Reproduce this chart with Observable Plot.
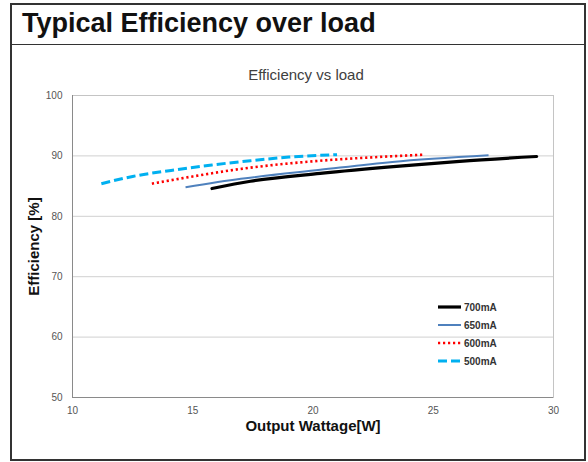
<!DOCTYPE html>
<html>
<head>
<meta charset="utf-8">
<script src="https://cdn.jsdelivr.net/npm/d3@7"></script>
<script src="https://cdn.jsdelivr.net/npm/@observablehq/plot@0.6"></script>
<style>
  html, body { margin: 0; padding: 0; background: #fff; }
  body { width: 588px; height: 462px; position: relative; overflow: hidden; font-family: "Liberation Sans", Arial, sans-serif; }
  #box { position: absolute; left: 10px; top: 3px; width: 572px; height: 454px; border: 2px solid #333; }
  #hdr { position: absolute; left: 10px; top: 44px; width: 576px; height: 0; border-top: 1.5px solid #333; }
  #title { position: absolute; left: 22px; top: 8px; font-size: 27px; font-weight: bold; color: #111; white-space: nowrap; }
  #sub { position: absolute; left: 0; width: 612px; text-align: center; top: 66px; font-size: 15px; color: #404040; }
  #chart { position: absolute; left: 0; top: 0; }
  #legend { position: absolute; left: 438px; top: 298px; font-size: 10px; font-weight: bold; color: #333; }
  #legend div { height: 18px; display: flex; align-items: center; }
  #legend svg { margin-right: 2px; }
</style>
</head>
<body>
<div id="box"></div>
<div id="hdr"></div>
<div id="title">Typical Efficiency over load</div>
<div id="sub">Efficiency vs load</div>
<div id="chart"></div>
<div id="legend"></div>
<script>
const seriesNames = ["700mA", "650mA", "600mA", "500mA"];
const colors = ["#000000", "#4f81bd", "#ff0000", "#00b0f0"];
const widths = [3.2, 2, 2.6, 3];
const dashes = [null, null, "2.2,2.8", "9,4"];

const watts700 = [15.8, 17.4, 20.3, 23.6, 26.1, 29.3];
const eff700   = [84.6, 85.8, 87.1, 88.3, 89.1, 89.9];
const watts650 = [14.7, 17.0, 20.3, 23.3, 27.3];
const eff650   = [84.8, 86.2, 87.7, 89.0, 90.1];
const watts600 = [13.3, 15.0, 17.1, 20.3, 23.6, 24.6];
const eff600   = [85.4, 86.6, 87.9, 89.2, 90.0, 90.2];
const watts500 = [11.2, 12.5, 14.1, 15.8, 17.4, 19.0, 21.0];
const eff500   = [85.4, 86.6, 87.6, 88.5, 89.2, 89.8, 90.2];

const xTicks = [10, 15, 20, 25, 30];
const yTicks = [50, 60, 70, 80, 90, 100];

const allW = [watts700, watts650, watts600, watts500];
const allE = [eff700, eff650, eff600, eff500];
const rows = [];
seriesNames.forEach((s, i) => allW[i].forEach((w, j) => rows.push({series: s, w, e: allE[i][j]})));

const lineMarks = [3, 2, 1, 0].map(i =>
  Plot.line(rows.filter(d => d.series === seriesNames[i]), {
    x: "w", y: "e", stroke: colors[i], strokeWidth: widths[i],
    strokeDasharray: dashes[i] || undefined, curve: "monotone-x",
    strokeLinecap: i === 0 ? "round" : "butt"
  })
);

const chart = Plot.plot({
  width: 588, height: 462,
  marginLeft: 72, marginRight: 35, marginTop: 95, marginBottom: 65,
  style: {background: "transparent", fontFamily: "Liberation Sans, Arial, sans-serif"},
  x: {domain: [10, 30], ticks: xTicks},
  y: {domain: [50, 100], ticks: yTicks},
  marks: [
    Plot.gridY(yTicks.filter(t => t > 50), {stroke: "#d0d0d0", strokeOpacity: 1}),
    Plot.frame({stroke: "#c4c4c4"}),
    Plot.ruleY([50], {stroke: "#8a8a8a"}),
    Plot.ruleX([10], {stroke: "#8a8a8a"}),
    Plot.axisX({ticks: xTicks, tickSize: 0, tickPadding: 9, fontSize: 10, fill: "#555", label: null}),
    Plot.axisY({ticks: yTicks, tickSize: 0, tickPadding: 10, fontSize: 10, fill: "#555", label: null}),
    ...lineMarks,
    Plot.text(["Output Wattage[W]"], {frameAnchor: "bottom", dy: 33, fontSize: 15, fontWeight: "bold", fill: "#111"}),
    Plot.text(["Efficiency [%]"], {frameAnchor: "left", textAnchor: "middle", dx: -38, rotate: -90, fontSize: 15, fontWeight: "bold", fill: "#111"})
  ]
});
document.getElementById("chart").appendChild(chart);

const leg = document.getElementById("legend");
seriesNames.forEach((s, i) => {
  const row = document.createElement("div");
  row.innerHTML = `<svg width="24" height="8"><line x1="0" x2="23" y1="4" y2="4" stroke="${colors[i]}" stroke-width="${widths[i]}" ${dashes[i] ? `stroke-dasharray="${dashes[i]}"` : ""}/></svg><span>${s}</span>`;
  leg.appendChild(row);
});
</script>
</body>
</html>
